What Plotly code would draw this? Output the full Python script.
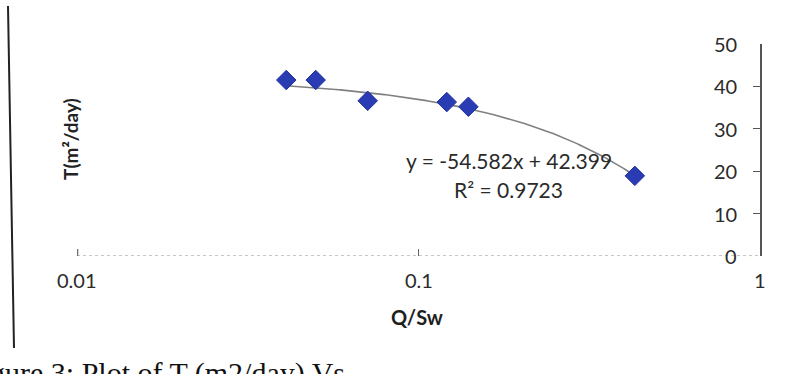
import numpy as np
import plotly.graph_objects as go

# Specific capacity (Q/Sw) against transmissivity T (m2/day)
q_sw = [0.041, 0.050, 0.071, 0.121, 0.140, 0.43]
transmissivity = [41.5, 41.5, 36.6, 36.3, 35.2, 18.9]

# Linear trendline reported on the chart
slope = -54.582
intercept = 42.399
r_squared = 0.9723

x_ticks = [0.01, 0.1, 1]
x_tick_text = ["0.01", "0.1", "1"]
y_ticks = [0, 10, 20, 30, 40, 50]

W, H = 786, 374
ML, MR, MT, MB = 77, 26, 44, 118
PW, PH = W - ML - MR, H - MT - MB


def px_to_paper(px, py):
    return (px - ML) / PW, (H - MB - py) / PH


# trend curve (straight in x, curved on the log axis)
x_fit = np.logspace(np.log10(min(q_sw)), np.log10(max(q_sw)), 200)
y_fit = slope * x_fit + intercept

fig = go.Figure()
fig.add_trace(go.Scatter(
    x=x_fit, y=y_fit, mode="lines",
    line=dict(color="#808080", width=1.6),
    hoverinfo="skip", showlegend=False,
))
fig.add_trace(go.Scatter(
    x=q_sw, y=transmissivity, mode="markers",
    marker=dict(symbol="diamond", size=15, color="#2a3cb4",
                line=dict(color="#1f2f9c", width=1)),
    showlegend=False,
))

font_main = "Lato, 'Open Sans', sans-serif"
tick_font = dict(family=font_main, size=20, color="#2b2b2b")

fig.update_layout(
    width=W, height=H, autosize=False,
    margin=dict(l=ML, r=MR, t=MT, b=MB, pad=0),
    paper_bgcolor="white", plot_bgcolor="white",
    font=dict(family=font_main, size=20, color="#333333"),
    xaxis=dict(
        type="log", range=[-2, 0],
        tickvals=x_ticks, showticklabels=False,
        ticks="inside", ticklen=7, tickcolor="#666666", tickwidth=1.2,
        showline=False, showgrid=False, zeroline=False,
    ),
    yaxis=dict(
        range=[0, 50], tickvals=y_ticks, showticklabels=False,
        side="right", ticks="inside", ticklen=7,
        tickcolor="#555555", tickwidth=1.2,
        showline=True, linecolor="#555555", linewidth=1.6,
        showgrid=False, zeroline=False,
    ),
)

# tick labels: values along the left of the right-hand T axis
lab_x, _ = px_to_paper(739, 0)
for v in y_ticks:
    fig.add_annotation(xref="paper", yref="y", x=lab_x, y=v, text=str(v),
                       showarrow=False, xanchor="right", yanchor="middle",
                       font=tick_font)

# tick labels under the log Q/Sw axis
_, lab_y = px_to_paper(0, 280)
for v, t in zip(x_ticks, x_tick_text):
    fig.add_annotation(xref="x", yref="paper", x=np.log10(v), y=lab_y, text=t,
                       showarrow=False, xanchor="center", yanchor="middle",
                       font=tick_font)

# faint dotted horizontal axis at T = 0
fig.add_shape(type="line", xref="x", yref="y", x0=0.01, x1=1, y0=0, y1=0,
              line=dict(color="#b5b5b5", width=1.4, dash="dot"), layer="below")

# small tick at the left end of the Q/Sw axis
tk_x, tk_y0 = px_to_paper(77, 249)
_, tk_y1 = px_to_paper(77, 256)
fig.add_shape(type="line", xref="paper", yref="paper",
              x0=tk_x + 0.001, x1=tk_x + 0.001, y0=tk_y0, y1=tk_y1,
              line=dict(color="#666666", width=1.2))

# page border line on the left
bx0, by0 = px_to_paper(8, 6)
bx1, by1 = px_to_paper(14, 348)
fig.add_shape(type="line", xref="paper", yref="paper",
              x0=bx0, y0=by0, x1=bx1, y1=by1,
              line=dict(color="#222222", width=2))

# axis titles
tx, ty = px_to_paper(70, 139)
fig.add_annotation(xref="paper", yref="paper", x=tx, y=ty,
                   text="<b>T(m²/day)</b>", textangle=-90, showarrow=False,
                   xanchor="center", yanchor="middle",
                   font=dict(family=font_main, size=19, color="#222222"))
qx, qy = px_to_paper(417, 317)
fig.add_annotation(xref="paper", yref="paper", x=qx, y=qy,
                   text="<b>Q/Sw</b>", showarrow=False,
                   xanchor="center", yanchor="middle",
                   font=dict(family=font_main, size=20, color="#1e1e1e"))

# trendline equation and R²
ex, ey = px_to_paper(509, 160)
fig.add_annotation(xref="paper", yref="paper", x=ex, y=ey,
                   text=f"y = {slope}x + {intercept}", showarrow=False,
                   xanchor="center", yanchor="middle",
                   font=dict(family=font_main, size=21, color="#2a2a2a"))
rx, ry = px_to_paper(508, 189)
fig.add_annotation(xref="paper", yref="paper", x=rx, y=ry,
                   text=f"R² = {r_squared}", showarrow=False,
                   xanchor="center", yanchor="middle",
                   font=dict(family=font_main, size=21, color="#2a2a2a"))

# figure caption at the foot of the page
cx, cy = px_to_paper(-37, 354)
fig.add_annotation(xref="paper", yref="paper", x=cx, y=cy,
                   text="Figure 3: Plot of T (m2/day) Vs", showarrow=False,
                   xanchor="left", yanchor="top",
                   font=dict(family="'Liberation Serif', 'DejaVu Serif', serif",
                             size=30, color="#111111"))

fig.write_html("out.html")
